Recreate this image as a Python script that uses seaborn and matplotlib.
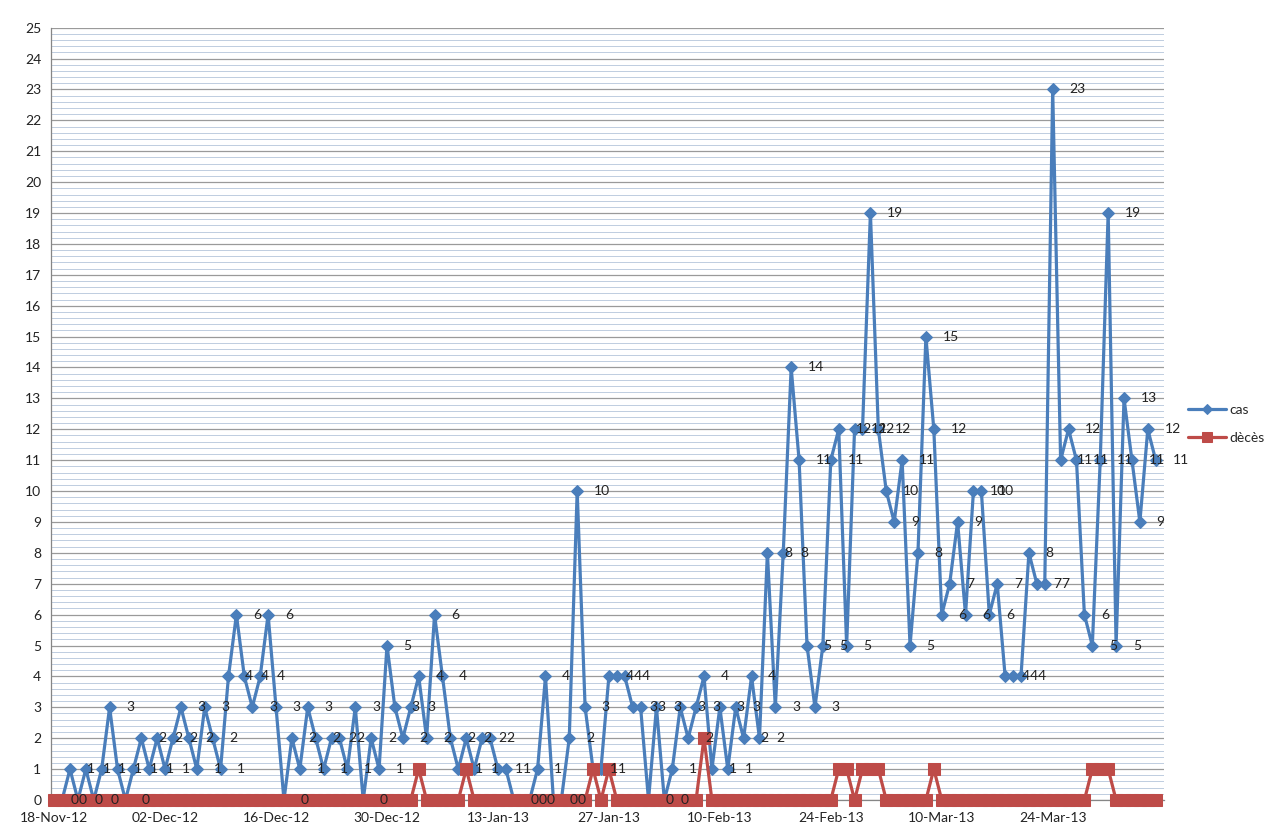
import pandas as pd
import seaborn as sns
import matplotlib.pyplot as plt
import matplotlib.dates as mdates
from matplotlib.ticker import MultipleLocator

# daily values from 18-Nov-12, one row = 14 days
start = '2012-11-18'
cas = [0, 0, 1, 0, 1, 0, 1, 3, 1, 0, 1, 2, 1, 2,
       1, 2, 3, 2, 1, 3, 2, 1, 4, 6, 4, 3, 4, 6,
       3, 0, 2, 1, 3, 2, 1, 2, 2, 1, 3, 0, 2, 1,
       5, 3, 2, 3, 4, 2, 6, 4, 2, 1, 2, 1, 2, 2,
       1, 1, 0, 0, 0, 1, 4, 0, 0, 2, 10, 3, 1, 1,
       4, 4, 4, 3, 3, 0, 3, 0, 1, 3, 2, 3, 4, 1,
       3, 1, 3, 2, 4, 2, 8, 3, 8, 14, 11, 5, 3, 5,
       11, 12, 5, 12, 12, 19, 12, 10, 9, 11, 5, 8, 15, 12,
       6, 7, 9, 6, 10, 10, 6, 7, 4, 4, 4, 8, 7, 7,
       23, 11, 12, 11, 6, 5, 11, 19, 5, 13, 11, 9, 12, 11]
deces = [0, 0, 0, 0, 0, 0, 0, 0, 0, 0, 0, 0, 0, 0,
         0, 0, 0, 0, 0, 0, 0, 0, 0, 0, 0, 0, 0, 0,
         0, 0, 0, 0, 0, 0, 0, 0, 0, 0, 0, 0, 0, 0,
         0, 0, 0, 0, 1, 0, 0, 0, 0, 0, 1, 0, 0, 0,
         0, 0, 0, 0, 0, 0, 0, 0, 0, 0, 0, 0, 1, 0,
         1, 0, 0, 0, 0, 0, 0, 0, 0, 0, 0, 0, 2, 0,
         0, 0, 0, 0, 0, 0, 0, 0, 0, 0, 0, 0, 0, 0,
         0, 1, 1, 0, 1, 1, 1, 0, 0, 0, 0, 0, 0, 1,
         0, 0, 0, 0, 0, 0, 0, 0, 0, 0, 0, 0, 0, 0,
         0, 0, 0, 0, 0, 1, 1, 1, 0, 0, 0, 0, 0, 0]
series_names = ['cas', 'dècès']

dates = pd.date_range(start, periods=len(cas), freq='D')
df = pd.DataFrame({'date': dates, 'cas': cas, 'deces': deces})

sns.set_style('white')
plt.rcParams['font.family'] = ['Lato', 'DejaVu Sans']

fig = plt.figure(figsize=(12.74, 8.39), dpi=100)
ax = fig.add_axes([0.040, 0.0465, 0.874, 0.9205])

blue = '#4a7ebb'
red = '#be4b48'

sns.lineplot(data=df, x='date', y='cas', ax=ax, color=blue, linewidth=2.3,
             marker='D', markersize=6, markeredgecolor=blue, label=series_names[0],
             zorder=3, clip_on=False)
sns.lineplot(data=df, x='date', y='deces', ax=ax, color=red, linewidth=2.3,
             marker='s', markersize=8.5, markeredgecolor=red, label=series_names[1],
             zorder=4, clip_on=False)

# data labels for "cas"
for d, v in zip(df['date'], df['cas']):
    ax.annotate(str(v), (d, v), xytext=(12, 0), textcoords='offset points',
                ha='left', va='center', fontsize=10, color='#222222',
                zorder=6, annotation_clip=False)

ax.set_ylim(0, 25)
ax.set_xlim(dates[0] - pd.Timedelta(days=0.4), dates[0] + pd.Timedelta(days=140.1))
ax.yaxis.set_major_locator(MultipleLocator(1))
ax.yaxis.set_minor_locator(MultipleLocator(0.2))
ax.set_xticks(dates[::14])
ax.xaxis.set_major_formatter(mdates.DateFormatter('%d-%b-%y'))

ax.grid(which='major', axis='y', color='#9a9a9a', linewidth=0.9, zorder=0)
ax.grid(which='minor', axis='y', color='#bfcde0', linewidth=0.7, zorder=0)
ax.grid(which='major', axis='x', visible=False)
ax.set_axisbelow(True)

for side in ['top', 'right']:
    ax.spines[side].set_visible(False)
for side in ['left', 'bottom']:
    ax.spines[side].set_color('#868686')
    ax.spines[side].set_linewidth(0.9)

ax.tick_params(axis='both', which='major', labelsize=10, colors='#222222',
               length=4, width=0.8, direction='out')
ax.tick_params(axis='y', which='minor', length=0)
ax.tick_params(axis='x', pad=5)
ax.tick_params(axis='y', pad=3)
for t in ax.get_xticklabels() + ax.get_yticklabels():
    t.set_color('#222222')
ax.xaxis.label.set_visible(False)
ax.yaxis.label.set_visible(False)

ax.legend(loc='center left', bbox_to_anchor=(1.015, 0.487), frameon=False,
          fontsize=10, handlelength=2.7, handletextpad=0.25, labelspacing=1.1,
          borderpad=0, markerscale=0.8)

fig.savefig('out.png', dpi=100)
